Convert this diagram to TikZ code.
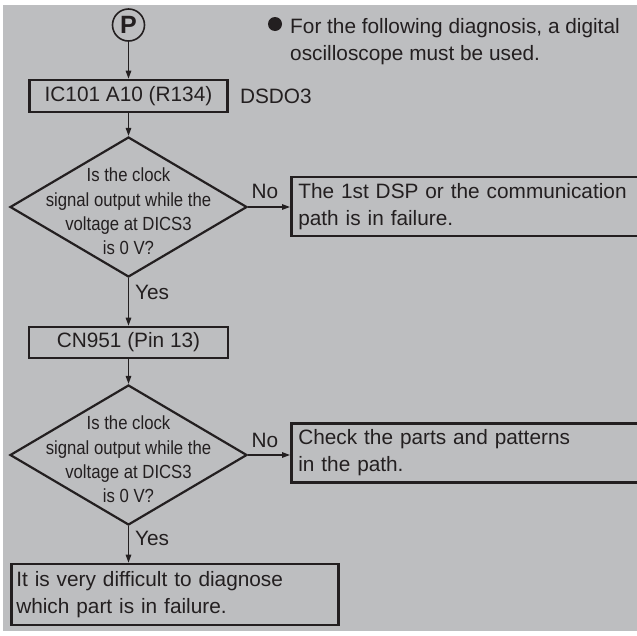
\documentclass[tikz,border=0pt]{standalone}
\usepackage{fontspec}
\setmainfont{Liberation Sans}
\newfontfamily\diafont[FakeStretch=0.88]{Liberation Sans}
\usetikzlibrary{shapes.geometric,arrows.meta,positioning}
\definecolor{panel}{RGB}{189,190,192}
\definecolor{ink}{RGB}{35,31,32}
\begin{document}
\begin{tikzpicture}[x=1pt,y=-1pt,
  every node/.style={text=ink,font=\fontsize{20.8}{27}\selectfont},
  box/.style={draw=ink,line width=2.6pt,inner xsep=7pt,inner ysep=0pt},
  dec/.style={draw=ink,diamond,line width=2.2pt,minimum width=237pt,minimum height=140pt,inner sep=0pt},
  dectext/.style={align=center,font=\diafont\fontsize{19}{24.3}\selectfont},
  link/.style={draw=ink,line width=1.3pt,-{Triangle[length=8pt,width=5.5pt]}}]
  \useasboundingbox (0,0) rectangle (637,635);
  \fill[panel] (3,5) rectangle (637,631);
  % start and note
  \node[circle,draw=ink,line width=1.6pt,minimum size=32pt,inner sep=0pt,font=\bfseries\fontsize{25}{25}\selectfont] (p) at (128.5,25) {P};
  \node[circle,fill=ink,minimum size=14pt,inner sep=0pt] (dot) at (275,24) {};
  \node[anchor=west,align=left] (note) at (286.7,41.5) {For the following diagnosis, a digital\\oscilloscope must be used.};
  % first check
  \node[box,minimum width=198pt,minimum height=32pt] (b1) at (128.5,96) {IC101 A10 (R134)};
  \node[anchor=west] (sig) at (236.5,96) {DSDO3};
  \node[dec] (d1) at (128.5,207) {};
  \node[dectext] (q1) at (128.5,211.5) {Is the clock\\signal output while the\\voltage at DICS3\\is 0 V?};
  \node[box,anchor=west,minimum height=59pt,text width=360pt,align=left] (b2) at (290,206.5) {The 1st DSP or the communication\\path is in failure.};
  \node (n1) at (265,191) {No};
  \node[anchor=west] (y1) at (131.5,292) {Yes};
  % second check
  \node[box,minimum width=199pt,minimum height=31pt] (b3) at (128.5,342.5) {CN951 (Pin 13)};
  \node[dec] (d2) at (128.5,455) {};
  \node[dectext] (q2) at (128.5,459.5) {Is the clock\\signal output while the\\voltage at DICS3\\is 0 V?};
  \node[box,anchor=west,minimum height=59pt,text width=360pt,align=left] (b4) at (290,453) {Check the parts and patterns\\in the path.};
  \node (n2) at (265,440) {No};
  \node[anchor=west] (y2) at (131.5,538) {Yes};
  \node[box,anchor=west,minimum height=61pt,text width=317pt,inner xsep=5pt,align=left] (b5) at (10,594.5) {It is very difficult to diagnose\\which part is in failure.};
  % connectors
  \draw[link] (p) -- (b1);
  \draw[link] (b1) -- (d1);
  \draw[link] (d1.east) -- (d1.east -| b2.west);
  \draw[link] (d1) -- (b3);
  \draw[link] (b3) -- (d2);
  \draw[link] (d2.east) -- (d2.east -| b4.west);
  \draw[link] (d2.south) -- (d2.south |- b5.north);
\end{tikzpicture}
\end{document}
